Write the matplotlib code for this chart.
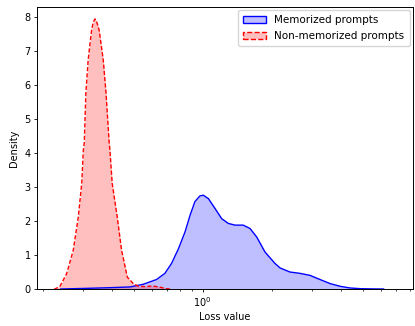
import numpy as np
import matplotlib
matplotlib.use("Agg")
import matplotlib.pyplot as plt
from matplotlib.patches import Patch
from matplotlib.ticker import LogLocator, NullFormatter

# Density curves (x given as log10 of loss value)
red_logx = [-0.649, -0.645, -0.623, -0.594, -0.565, -0.543, -0.528, -0.521, -0.517, -0.510,
            -0.500, -0.485, -0.478, -0.470, -0.462, -0.452, -0.434, -0.422, -0.408, -0.405,
            -0.395, -0.373, -0.354, -0.329, -0.303, -0.280, -0.250, -0.220, -0.190, -0.160, -0.140]
red_density = [0.0, 0.0, 0.08, 0.45, 1.14, 2.12, 3.11, 4.09, 4.29, 5.77,
               6.74, 7.62, 7.85, 7.95, 7.85, 7.62, 6.74, 5.77, 4.29, 4.09,
               3.11, 2.12, 1.14, 0.35, 0.16, 0.08, 0.07, 0.09, 0.06, 0.01, 0.0]

blue_logx = [-0.62, -0.50, -0.40, -0.317, -0.259, -0.201, -0.165, -0.136, -0.106, -0.077,
             -0.055, -0.034, -0.012, 0.003, 0.025, 0.054, 0.083, 0.112, 0.141, 0.177,
             0.207, 0.236, 0.272, 0.316, 0.338, 0.381, 0.425, 0.469, 0.512, 0.556,
             0.600, 0.643, 0.687, 0.740, 0.790]
blue_density = [0.0, 0.02, 0.04, 0.06, 0.14, 0.28, 0.46, 0.75, 1.18, 1.68,
                2.17, 2.57, 2.74, 2.76, 2.66, 2.37, 2.07, 1.93, 1.88, 1.88,
                1.78, 1.53, 1.09, 0.75, 0.62, 0.50, 0.46, 0.40, 0.28, 0.16,
                0.08, 0.03, 0.01, 0.003, 0.0]

series_labels = ["Memorized prompts", "Non-memorized prompts"]
x_label = "Loss value"
y_label = "Density"
y_ticks = [0, 1, 2, 3, 4, 5, 6, 7, 8]

plt.rcParams['font.family'] = ['DejaVu Sans']
plt.rcParams['font.size'] = 7

fig = plt.figure(figsize=(4.15, 3.26), dpi=100)
ax = fig.add_axes([0.089, 0.1135, 0.906, 0.865])

bx = np.power(10.0, np.array(blue_logx))
rx = np.power(10.0, np.array(red_logx))

ax.fill_between(bx, blue_density, color=(0, 0, 1, 0.25), linewidth=0)
ax.plot(bx, blue_density, color="blue", lw=1.0)
ax.fill_between(rx, red_density, color=(1, 0, 0, 0.25), linewidth=0)
ax.plot(rx, red_density, color="red", lw=1.0, ls="--", dashes=(3, 1.5))

ax.set_xscale("log")
ax.set_xlim(10 ** -0.7236, 10 ** 0.918)
ax.set_ylim(0, 8.3)
ax.set_yticks(y_ticks)
ax.xaxis.set_major_locator(LogLocator(base=10))
ax.xaxis.set_minor_locator(LogLocator(base=10, subs=np.arange(2, 10)))
ax.xaxis.set_minor_formatter(NullFormatter())
ax.tick_params(axis="both", which="major", length=2.5, width=0.6, pad=2)
ax.tick_params(axis="x", which="minor", length=1.5, width=0.5)
for s in ax.spines.values():
    s.set_linewidth(0.7)

ax.set_xlabel(x_label, labelpad=2)
ax.set_ylabel(y_label, labelpad=4)

handles = [
    Patch(facecolor=(0, 0, 1, 0.25), edgecolor="blue", linewidth=1.0, label=series_labels[0]),
    Patch(facecolor=(1, 0, 0, 0.25), edgecolor="red", linewidth=1.0, linestyle="--", label=series_labels[1]),
]
ax.legend(handles=handles, loc="upper right", fontsize=7.5, handlelength=2.2,
          borderpad=0.5, labelspacing=0.55, framealpha=0.8, borderaxespad=0.3)

fig.savefig("out.png", dpi=100)
